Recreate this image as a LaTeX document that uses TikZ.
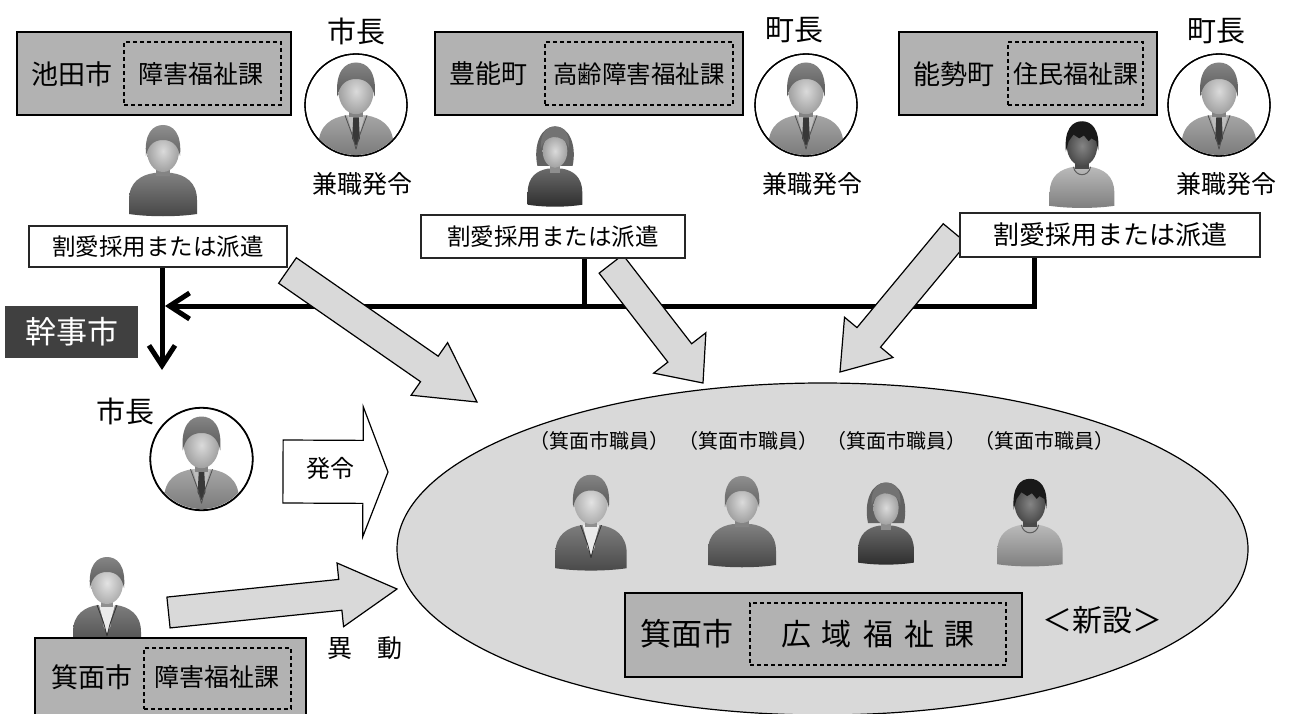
\documentclass[tikz,border=0pt]{standalone}
\usepackage{fontspec}
\setmainfont{Noto Sans CJK JP}
\usetikzlibrary{arrows.meta,calc,shapes.geometric}

\definecolor{unitgray}{gray}{0.70}
\definecolor{paleg}{gray}{0.85}
\definecolor{kanjibg}{gray}{0.25}
\definecolor{hairmid}{gray}{0.40}
\definecolor{hairlight}{gray}{0.45}
\definecolor{hairdark}{gray}{0.10}
\definecolor{skin}{gray}{0.74}
\definecolor{skinlight}{gray}{0.80}
\definecolor{skindark}{gray}{0.36}
\definecolor{shirtdark}{gray}{0.34}
\definecolor{dressdark}{gray}{0.22}
\definecolor{shirtlight}{gray}{0.66}
\definecolor{suitmid}{gray}{0.56}
\definecolor{suitdark}{gray}{0.36}
\definecolor{tiedark}{gray}{0.22}
\definecolor{shirtwhite}{gray}{0.92}
\definecolor{shirtgrey}{gray}{0.74}

\newcommand{\fsz}[1]{\fontsize{#1pt}{#1pt}\selectfont}

% block arrow: style, tail, tip, half body width, half head width, head length
\newcommand{\blockarrow}[6]{%
  \coordinate (ba-h) at ($(#3)!#6pt!(#2)$);
  \draw[#1] ($(#2)!#4pt!90:(#3)$) -- ($(ba-h)!#4pt!90:(#3)$) -- ($(ba-h)!#5pt!90:(#3)$)
    -- (#3) -- ($(ba-h)!#5pt!-90:(#3)$) -- ($(ba-h)!#4pt!-90:(#3)$)
    -- ($(#2)!#4pt!-90:(#3)$) -- cycle;
}

\pgfdeclarelayer{under}
\pgfsetlayers{under,main}

\tikzset{
  unitbox/.style={draw=black, line width=1.3pt, fill=unitgray, inner sep=0pt},
  secbox/.style={draw=black, line width=1.1pt, dash pattern=on 4pt off 3pt, inner sep=0pt},
  labelbox/.style={draw=black!85, line width=1.2pt, fill=white, inner sep=0pt},
  txt/.style={inner sep=0pt},
  conn/.style={line width=5pt},
  barb/.style={-{Straight Barb[length=20pt,width=26pt]}},
  grayarrow/.style={draw=black, line width=1.2pt, fill=paleg, line join=miter},
  whitearrow/.style={draw=black, line width=1.2pt, fill=white, line join=miter},
  ring/.style={circle, draw=black, line width=1.3pt, fill=white, minimum size=102pt, inner sep=0pt},
  pics/casual/.style n args={3}{code={
    \shade[top color=#3!75!white, bottom color=#3!80!black]
      (-34,44) -- (-34,30) .. controls (-34,12) and (-22,5) .. (-9,3) -- (9,3)
      .. controls (22,5) and (34,12) .. (34,30) -- (34,44)
      .. controls (14,47) and (-14,47) .. (-34,44) -- cycle;
    \fill[#2!70!black] (-7,-6) rectangle (7,6);
    \shade[inner color=#2!55!white, outer color=#2!85!black] (0,-19) ellipse [x radius=16, y radius=21];
    \shade[top color=#1!80!white, bottom color=#1!85!black]
      (-17,-14) .. controls (-19,-37) and (-10,-45) .. (0,-45) .. controls (10,-45) and (19,-37) .. (17,-14)
      .. controls (15,-25) and (9,-30) .. (0,-30) .. controls (-9,-30) and (-15,-25) .. (-17,-14) -- cycle;
  }},
  pics/spiky/.style n args={3}{code={
    \shade[top color=#3!80!white, bottom color=#3!75!black]
      (-34,44) -- (-34,30) .. controls (-34,12) and (-22,5) .. (-9,3) -- (9,3)
      .. controls (22,5) and (34,12) .. (34,30) -- (34,44)
      .. controls (14,47) and (-14,47) .. (-34,44) -- cycle;
    \draw[#3!55!black, line width=1pt] (-9,3) .. controls (-7,14) and (7,14) .. (9,3);
    \fill[#2!80!black] (-7,-6) rectangle (7,5);
    \shade[inner color=#2!75!white, outer color=#2!80!black] (0,-19) ellipse [x radius=16, y radius=21];
    \fill[#1]
      (-17,-13) .. controls (-19,-37) and (-10,-45) .. (0,-45) .. controls (10,-45) and (19,-37) .. (17,-14)
      -- (15,-24) -- (10,-27) -- (7,-24) -- (2,-30) -- (-3,-27) -- (-9,-31) -- (-14,-24) -- cycle;
  }},
  pics/woman/.style n args={3}{code={
    \fill[#1!85!black] (-20,0) .. controls (-25,-24) and (-16,-45) .. (0,-45)
      .. controls (16,-45) and (25,-24) .. (20,0) -- cycle;
    \shade[top color=#3!75!white, bottom color=#3!80!black]
      (-31,44) -- (-31,30) .. controls (-31,12) and (-20,5) .. (-8,3) -- (8,3)
      .. controls (20,5) and (31,12) .. (31,30) -- (31,44)
      .. controls (12,47) and (-12,47) .. (-31,44) -- cycle;
    \fill[#2!75!black] (-6,-6) rectangle (6,8);
    \shade[inner color=#2!55!white, outer color=#2!85!black] (0,-17) ellipse [x radius=14, y radius=19];
    \fill[#1] (-16,-20) .. controls (-17,-38) and (-9,-45) .. (0,-45) .. controls (10,-45) and (17,-38) .. (16,-20)
      .. controls (13,-30) and (6,-33) .. (-2,-33) .. controls (-9,-32) and (-14,-27) .. (-16,-20) -- cycle;
  }},
  pics/suit/.style n args={5}{code={
    \shade[top color=#3!80!white, bottom color=#3!80!black]
      (-34,44) -- (-34,30) .. controls (-34,12) and (-22,5) .. (-9,3) -- (9,3)
      .. controls (22,5) and (34,12) .. (34,30) -- (34,44)
      .. controls (14,47) and (-14,47) .. (-34,44) -- cycle;
    \fill[#4] (-8,3) -- (8,3) -- (0,32) -- cycle;
    \fill[#5] (-2.5,5) -- (2.5,5) -- (3.5,24) -- (0,31) -- (-3.5,24) -- cycle;
    \draw[#3!55!black, line width=0.8pt] (-10,3) -- (-3,22) -- (0,34) (10,3) -- (3,22) -- (0,34);
    \fill[#2!70!black] (-6,-6) rectangle (6,5);
    \shade[inner color=#2!55!white, outer color=#2!85!black] (0,-19) ellipse [x radius=16, y radius=21];
    \shade[top color=#1!80!white, bottom color=#1!85!black]
      (-17,-14) .. controls (-19,-37) and (-10,-45) .. (0,-45) .. controls (10,-45) and (19,-37) .. (17,-14)
      .. controls (15,-25) and (9,-30) .. (0,-30) .. controls (-9,-30) and (-15,-25) .. (-17,-14) -- cycle;
  }},
}

\begin{document}
\begin{tikzpicture}[x=1pt,y=-1pt]
\useasboundingbox (0,0) rectangle (1289,714);
\clip (0,0) rectangle (1289,714);
\begin{pgfonlayer}{under}
  \fill[white] (0,0) rectangle (1289,714);
\end{pgfonlayer}

% ---------- top row: the three municipalities ----------
\node[unitbox, minimum width=274pt, minimum height=83pt] (ikeda) at (154,73.5) {};
\node[secbox, minimum width=157pt, minimum height=63pt] (ikedaSec) at (202.5,73.5) {};
\node[txt, font=\fsz{27}] (ikedaName) at (72,74) {池田市};
\node[txt, font=\fsz{25}] (ikedaSecName) at (201,74) {障害福祉課};

\node[unitbox, minimum width=308pt, minimum height=83pt] (toyono) at (589,73.5) {};
\node[secbox, minimum width=188pt, minimum height=63pt] (toyonoSec) at (639,73.5) {};
\node[txt, font=\fsz{26}] (toyonoName) at (488,74) {豊能町};
\node[txt, font=\fsz{24.5}] (toyonoSecName) at (639,74) {高齢障害福祉課};

\node[unitbox, minimum width=258pt, minimum height=83pt] (nose) at (1028,73.5) {};
\node[secbox, minimum width=135pt, minimum height=63pt] (noseSec) at (1075.5,73.5) {};
\node[txt, font=\fsz{27}] (noseName) at (954,74) {能勢町};
\node[txt, font=\fsz{25}] (noseSecName) at (1076,74) {住民福祉課};

% heads of the municipalities
\node[txt, font=\fsz{29}] (headA) at (356,31) {市長};
\node[txt, font=\fsz{29}] (headB) at (794,30) {町長};
\node[txt, font=\fsz{29}] (headC) at (1216,31) {町長};
\node[ring] (ringA) at (356,105) {};
\node[ring] (ringB) at (806,105) {};
\node[ring] (ringC) at (1219,105) {};
\foreach \r in {ringA,ringB,ringC}{
  \begin{scope}
    \clip (\r.center) circle [radius=50];
    \pic[scale=1.1] at ($(\r.center)+(0,7)$) {suit={hairmid}{skin}{suitmid}{shirtgrey}{tiedark}};
  \end{scope}
  \draw[line width=1.3pt] (\r.center) circle [radius=51];
}
\node[txt, font=\fsz{25}] (kenA) at (362,184) {兼職発令};
\node[txt, font=\fsz{25}] (kenB) at (812,184) {兼職発令};
\node[txt, font=\fsz{25}] (kenC) at (1226,184) {兼職発令};

% staff of each municipality
\pic at (163,170) {casual={hairlight}{skin}{shirtdark}};
\pic[scale=0.88] at (555,166) {woman={hairlight}{skin}{dressdark}};
\pic[scale=0.95] at (1082,164) {spiky={hairdark}{skindark}{shirtlight}};

\node[labelbox, minimum width=258pt, minimum height=41pt, font=\fsz{23.5}] (L1) at (158,246.5) {割愛採用または派遣};
\node[labelbox, minimum width=264pt, minimum height=43pt, font=\fsz{23.5}] (L2) at (553,236.5) {割愛採用または派遣};
\node[labelbox, minimum width=300pt, minimum height=44pt, font=\fsz{26}] (L3) at (1110,235) {割愛採用または派遣};

% ---------- connectors to the lead city ----------
\coordinate (x1) at (162,0);
\coordinate (x2) at (584.5,0);
\coordinate (x3) at (1034,0);
\coordinate (bus) at (165,306);
\coordinate (kanjiIn) at (162,370);

\coordinate (a1tail) at (287.5,270.5);  \coordinate (a1tip) at (477,402);
\coordinate (a2tail) at (611,264);      \coordinate (a2tip) at (703,383);
\coordinate (a3tail) at (955,233.5);    \coordinate (a3tip) at (840,372);

\begin{pgfonlayer}{under}
  \draw[conn,barb] (L1.south -| x1) -- (kanjiIn);
  \draw[conn,barb] (L3.south -| x3) |- (bus);
  \draw[conn] (L2.south -| x2) -- (x2 |- bus);
  \blockarrow{grayarrow}{a1tail}{a1tip}{15.5}{32}{58}
  \blockarrow{grayarrow}{a2tail}{a2tip}{15}{33}{38}
  \blockarrow{grayarrow}{a3tail}{a3tip}{15.3}{31.5}{45}
\end{pgfonlayer}

\node[fill=kanjibg, minimum width=133pt, minimum height=52pt, inner sep=0pt,
      text=white, font=\fsz{31}] (kanji) at (71.5,332) {幹事市};

% ---------- lead city: mayor and transferred staff ----------
\node[txt, font=\fsz{29}] (mayorLabel) at (125,411) {市長};
\node[ring] (ringD) at (201.5,459) {};
\begin{scope}
  \clip (ringD.center) circle [radius=50];
  \pic[scale=1.1] at ($(ringD.center)+(0,7)$) {suit={hairmid}{skin}{suitmid}{shirtgrey}{tiedark}};
\end{scope}
\draw[line width=1.3pt] (ringD.center) circle [radius=51.5];

\coordinate (apTail) at (283,471.5);  \coordinate (apTip) at (388,472);
\blockarrow{whitearrow}{apTail}{apTip}{31.5}{65}{25}
\node[txt, font=\fsz{24}] (appoint) at (330,468) {発令};

\pic at (107,602) {suit={hairmid}{skinlight}{suitdark}{shirtwhite}{shirtwhite}};

\coordinate (mvTail) at (168.5,612.5);  \coordinate (mvTip) at (397,589);
\blockarrow{grayarrow}{mvTail}{mvTip}{15.5}{32}{57}
\node[txt, font=\fsz{25}] (move) at (364.5,648) {異　動};

\node[unitbox, minimum width=271pt, minimum height=100pt] (minoh) at (170.5,688) {};
\node[secbox, minimum width=147pt, minimum height=61pt] (minohSec) at (217.5,678.5) {};
\node[txt, font=\fsz{27}] (minohName) at (92,677) {箕面市};
\node[txt, font=\fsz{25}] (minohSecName) at (217,677) {障害福祉課};

% ---------- the new wide-area welfare division ----------
\node[ellipse, draw=black, line width=1.2pt, fill=paleg, minimum width=851pt, minimum height=332pt, inner sep=0pt] (team) at (822.5,549) {};

\foreach \x/\n in {599/s1,748/s2,896/s3,1044/s4}
  \node[txt, font=\fsz{20}] (\n) at (\x,441) {（箕面市職員）};

\pic[scale=1.05] at (591,522) {suit={hairmid}{skinlight}{suitdark}{shirtwhite}{shirtwhite}};
\pic at (742,521) {casual={hairlight}{skin}{shirtdark}};
\pic[scale=0.9] at (886,523) {woman={hairlight}{skin}{dressdark}};
\pic[scale=0.96] at (1030,522) {spiky={hairdark}{skindark}{shirtlight}};

\node[unitbox, minimum width=397pt, minimum height=84pt] (wide) at (823.5,635) {};
\node[secbox, minimum width=256pt, minimum height=62pt] (wideSec) at (878,634) {};
\node[txt, font=\fsz{31}] (wideName) at (686.5,634) {箕面市};
\node[txt, font=\fsz{30}] (wideSecName) at (878,634) {広\hspace{11pt}域\hspace{11pt}福\hspace{11pt}祉\hspace{11pt}課};
\node[txt, font=\fsz{30}] (newTag) at (1102,620) {＜新設＞};

\end{tikzpicture}
\end{document}
